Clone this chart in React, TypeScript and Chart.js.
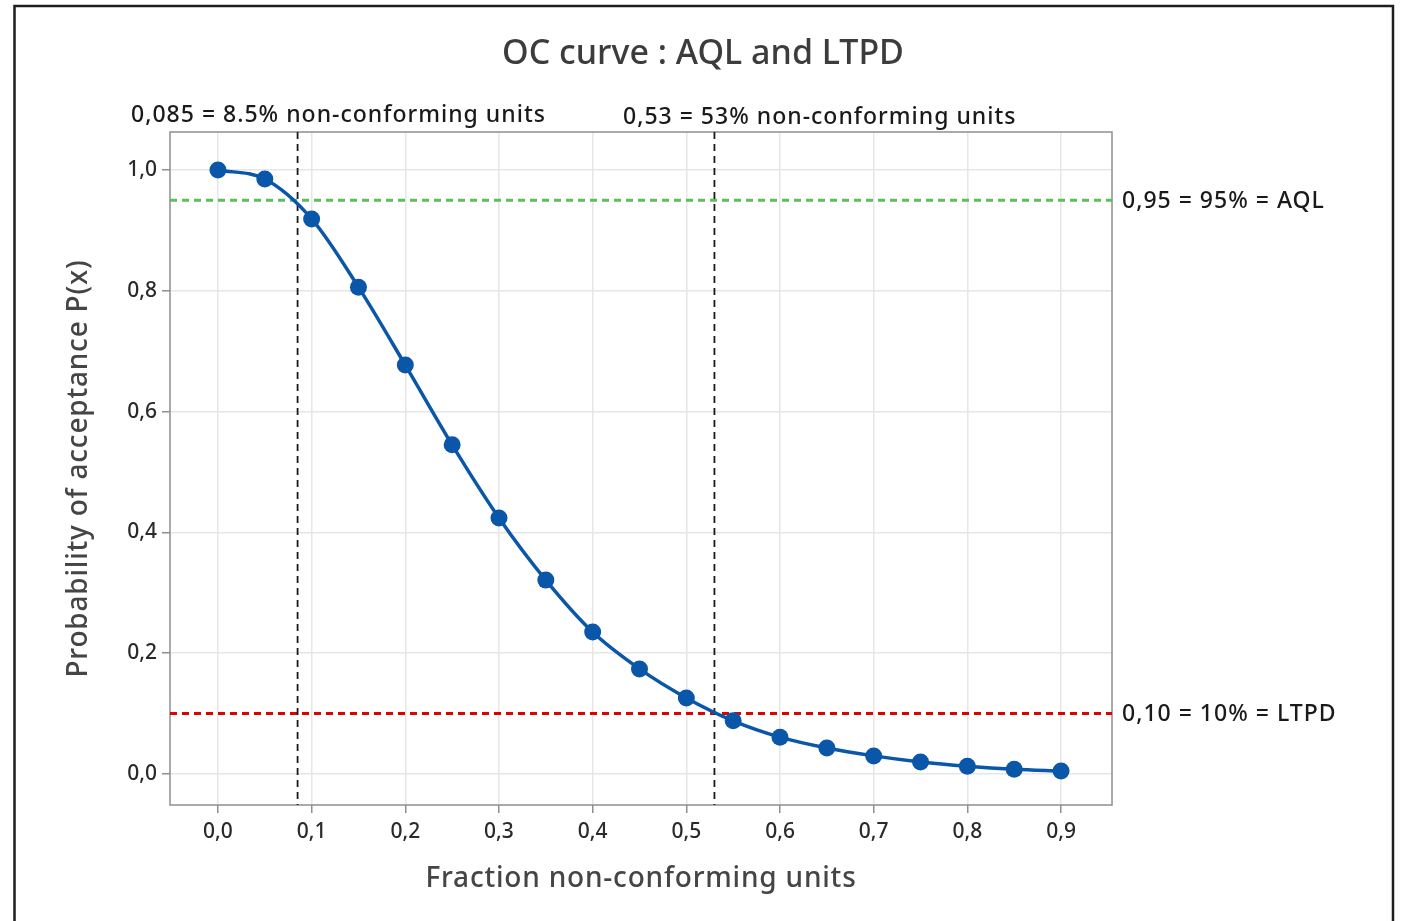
import { useEffect, useRef } from "react";
import { Chart, registerables } from "chart.js";

Chart.register(...registerables);

// Operating characteristic curve: fraction non-conforming vs probability of acceptance
const fractionNonConforming = [
  0, 0.05, 0.1, 0.15, 0.2, 0.25, 0.3, 0.35, 0.4, 0.45, 0.5, 0.55, 0.6, 0.65,
  0.7, 0.75, 0.8, 0.85, 0.9,
];
const acceptanceProbability = [
  1.0, 0.985, 0.919, 0.806, 0.677, 0.545, 0.424, 0.321, 0.235, 0.174, 0.126,
  0.088, 0.061, 0.043, 0.03, 0.02, 0.013, 0.008, 0.005,
];
const xTickValues = [0, 0.1, 0.2, 0.3, 0.4, 0.5, 0.6, 0.7, 0.8, 0.9];
const yTickValues = [0, 0.2, 0.4, 0.6, 0.8, 1.0];

const aqlLevel = 0.95;
const ltpdLevel = 0.1;
const aqlFraction = 0.085;
const ltpdFraction = 0.53;

const chartTitle = "OC curve : AQL and LTPD";
const xAxisTitle = "Fraction non-conforming units";
const yAxisTitle = "Probability of acceptance P(x)";
const aqlFractionLabel = "0,085 = 8.5% non-conforming units";
const ltpdFractionLabel = "0,53 = 53% non-conforming units";
const aqlLabel = "0,95 = 95% = AQL";
const ltpdLabel = "0,10 = 10% = LTPD";

const FONT = "'Noto Sans', 'Open Sans', sans-serif";
const W = 1403;
const H = 921;

const fmt = (v: number) => v.toFixed(1).replace(".", ",");

const decorations = {
  id: "ocDecorations",
  beforeDatasetsDraw(chart: any) {
    const { ctx, chartArea: a, scales } = chart;
    const x = scales.x;
    const y = scales.y;
    ctx.save();
    // plot frame
    ctx.strokeStyle = "#8f8f8f";
    ctx.lineWidth = 1.5;
    ctx.strokeRect(a.left, a.top, a.right - a.left, a.bottom - a.top);

    // AQL / LTPD horizontal references
    const hLine = (v: number, color: string) => {
      const py = y.getPixelForValue(v);
      ctx.beginPath();
      ctx.setLineDash([7, 5]);
      ctx.strokeStyle = color;
      ctx.lineWidth = 3;
      ctx.moveTo(a.left, py);
      ctx.lineTo(a.right, py);
      ctx.stroke();
    };
    hLine(aqlLevel, "#5cbf5c");
    hLine(ltpdLevel, "#e00000");

    // fraction markers
    const vLine = (v: number) => {
      const px = x.getPixelForValue(v);
      ctx.beginPath();
      ctx.setLineDash([7, 5]);
      ctx.strokeStyle = "#1a1a1a";
      ctx.lineWidth = 1.8;
      ctx.moveTo(px, a.top);
      ctx.lineTo(px, a.bottom);
      ctx.stroke();
    };
    vLine(aqlFraction);
    vLine(ltpdFraction);
    ctx.restore();
  },
  afterDraw(chart: any) {
    const { ctx, chartArea: a, scales } = chart;
    const y = scales.y;
    ctx.save();

    // outer frame
    ctx.strokeStyle = "#1e1e1e";
    ctx.lineWidth = 2.5;
    ctx.beginPath();
    ctx.moveTo(14.5, H + 5);
    ctx.lineTo(14.5, 6);
    ctx.lineTo(1393, 6);
    ctx.lineTo(1393, H + 5);
    ctx.stroke();

    // title
    ctx.fillStyle = "#3c3c3c";
    ctx.font = `500 34px ${FONT}`;
    ctx.textAlign = "center";
    ctx.textBaseline = "alphabetic";
    ctx.fillText(chartTitle, 703, 64);

    // axis titles
    ctx.fillStyle = "#454545";
    ctx.font = `500 28px ${FONT}`;
    ctx.letterSpacing = "0.8px";
    ctx.fillText(xAxisTitle, (a.left + a.right) / 2, 887);
    ctx.save();
    ctx.translate(87, (a.top + a.bottom) / 2);
    ctx.rotate(-Math.PI / 2);
    ctx.fillText(yAxisTitle, 0, 0);
    ctx.restore();

    // reference labels
    ctx.fillStyle = "#1a1a1a";
    ctx.font = `500 23px ${FONT}`;
    ctx.letterSpacing = "1px";
    ctx.textAlign = "left";
    ctx.fillText(aqlFractionLabel, 131, 122);
    ctx.fillText(ltpdFractionLabel, 623, 124);
    ctx.textBaseline = "middle";
    ctx.fillText(aqlLabel, a.right + 10, y.getPixelForValue(aqlLevel) + 1);
    ctx.fillText(ltpdLabel, a.right + 10, y.getPixelForValue(ltpdLevel) + 1);
    ctx.restore();
  },
};

export default function App() {
  const canvasRef = useRef<HTMLCanvasElement | null>(null);

  useEffect(() => {
    const canvas = canvasRef.current;
    if (!canvas) return;
    const chart = new Chart(canvas, {
      type: "line",
      data: {
        datasets: [
          {
            data: fractionNonConforming.map((f, i) => ({
              x: f,
              y: acceptanceProbability[i],
            })),
            borderColor: "#0a56a8",
            backgroundColor: "#0a56a8",
            borderWidth: 3.5,
            pointRadius: 8.5,
            pointBackgroundColor: "#0a56a8",
            pointBorderWidth: 0,
            cubicInterpolationMode: "monotone",
          },
        ],
      },
      options: {
        responsive: false,
        animation: false,
        layout: { padding: { left: 0, top: 132, right: 291, bottom: 0 } },
        plugins: {
          legend: { display: false },
          title: { display: false },
          tooltip: { enabled: false },
        },
        scales: {
          x: {
            type: "linear",
            min: -0.0512,
            max: 0.9544,
            afterFit: (s: any) => {
              s.height = 116;
            },
            afterBuildTicks: (s: any) => {
              s.ticks = xTickValues.map((v) => ({ value: v }));
            },
            border: { display: false },
            grid: {
              color: "#e6e6e6",
              lineWidth: 1.5,
              tickColor: "#8f8f8f",
              tickLength: 8,
            },
            ticks: {
              padding: 6,
              color: "#2a2a2a",
              font: { family: FONT, size: 21, weight: "500" },
              callback: (v: any) => fmt(Number(v)),
              maxRotation: 0,
            },
          },
          y: {
            type: "linear",
            min: -0.0513,
            max: 1.0629,
            afterFit: (s: any) => {
              s.width = 170;
            },
            afterBuildTicks: (s: any) => {
              s.ticks = yTickValues.map((v) => ({ value: v }));
            },
            border: { display: false },
            grid: {
              color: "#e6e6e6",
              lineWidth: 1.5,
              tickColor: "#8f8f8f",
              tickLength: 8,
            },
            ticks: {
              padding: 5,
              color: "#2a2a2a",
              font: { family: FONT, size: 21, weight: "500" },
              callback: (v: any) => fmt(Number(v)),
            },
          },
        },
      },
      plugins: [decorations],
    });
    return () => chart.destroy();
  }, []);

  return (
    <div style={{ position: "absolute", left: 0, top: 0, width: W, height: H, background: "#fff" }}>
      <canvas ref={canvasRef} width={W} height={H} style={{ display: "block" }} />
    </div>
  );
}
